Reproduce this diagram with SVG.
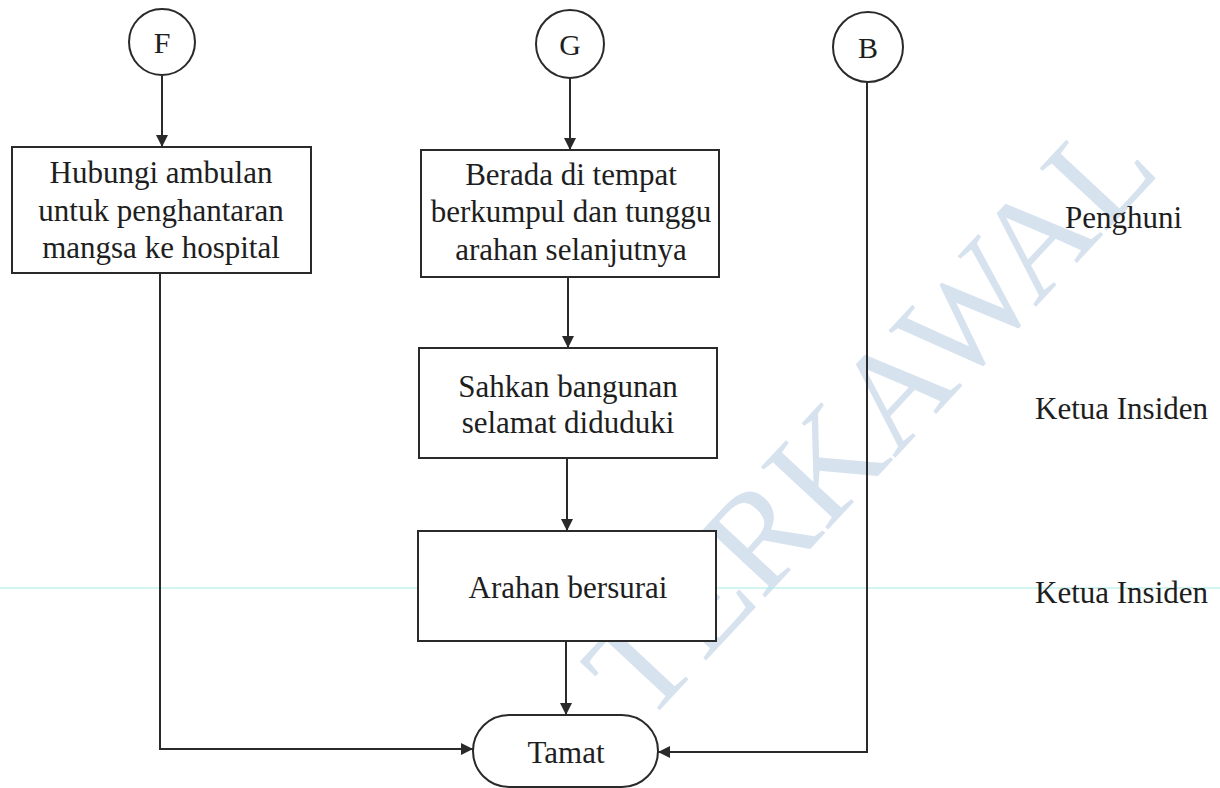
<svg xmlns="http://www.w3.org/2000/svg" width="1220" height="788" viewBox="0 0 1220 788">
  <style>
    .box { fill: #ffffff; stroke: #2a2a2a; stroke-width: 2; }
    .conn { fill: none; stroke: #2a2a2a; stroke-width: 2; }
    .t { font-family: "Liberation Serif", "Times New Roman", serif; font-size: 31px; fill: #1e1e1e; }
    .c { text-anchor: middle; }
    .lbl { font-family: "Liberation Serif", "Times New Roman", serif; font-size: 30px; fill: #1e1e1e; text-anchor: middle; }
    .wm { font-family: "Liberation Serif", "Times New Roman", serif; font-size: 140px; fill: #c3d3e8; opacity: 0.65; }
  </style>
  <defs>
    <marker id="arr" markerUnits="userSpaceOnUse" markerWidth="13" markerHeight="13" refX="12" refY="6" orient="auto">
      <path d="M0,0 L12,6 L0,12 z" fill="#2a2a2a"/>
    </marker>
  </defs>
  <rect width="1220" height="788" fill="#ffffff"/>

  <!-- watermark -->
  <g id="watermark">
    <text class="wm" transform="translate(645,726) rotate(-47)">TERKAWAL</text>
  </g>

  <!-- guide line -->
  <line x1="0" y1="588" x2="1220" y2="588" stroke="#a6ece4" stroke-width="1.2"/>

  <g id="connectors">
    <line class="conn" x1="162" y1="76" x2="162" y2="147" marker-end="url(#arr)"/>
    <line class="conn" x1="570" y1="78" x2="570" y2="150" marker-end="url(#arr)"/>
    <line class="conn" x1="568" y1="277" x2="568" y2="348" marker-end="url(#arr)"/>
    <line class="conn" x1="567" y1="458" x2="567" y2="531" marker-end="url(#arr)"/>
    <line class="conn" x1="566" y1="641" x2="566" y2="715" marker-end="url(#arr)"/>
    <polyline class="conn" points="160,273 160,749 473,749" marker-end="url(#arr)"/>
    <polyline class="conn" points="867,82 867,752 658,752" marker-end="url(#arr)"/>
  </g>

  <g id="node-F">
    <circle class="box" cx="162" cy="42" r="33"/>
    <text class="lbl" x="162" y="53">F</text>
  </g>
  <g id="node-G">
    <circle class="box" cx="570" cy="44" r="34"/>
    <text class="lbl" x="570" y="55">G</text>
  </g>
  <g id="node-B">
    <circle class="box" cx="868" cy="47" r="35"/>
    <text class="lbl" x="868" y="58">B</text>
  </g>

  <g id="node-ambulan">
    <rect class="box" x="12" y="147" width="299" height="126"/>
    <text class="t c" x="161" y="183">Hubungi ambulan</text>
    <text class="t c" x="161" y="221">untuk penghantaran</text>
    <text class="t c" x="161" y="258">mangsa ke hospital</text>
  </g>

  <g id="node-berkumpul">
    <rect class="box" x="421" y="150" width="298" height="127"/>
    <text class="t c" x="571" y="185">Berada di tempat</text>
    <text class="t c" x="571" y="222">berkumpul dan tunggu</text>
    <text class="t c" x="571" y="260">arahan selanjutnya</text>
  </g>

  <g id="node-sahkan">
    <rect class="box" x="419" y="348" width="298" height="110"/>
    <text class="t c" x="568" y="397">Sahkan bangunan</text>
    <text class="t c" x="568" y="433">selamat diduduki</text>
  </g>

  <g id="node-arahan">
    <rect class="box" x="418" y="531" width="298" height="110"/>
    <text class="t c" x="568" y="598">Arahan bersurai</text>
  </g>

  <g id="node-tamat">
    <rect class="box" x="473" y="715" width="185" height="72" rx="36" ry="36"/>
    <text class="t c" x="566" y="763">Tamat</text>
  </g>

  <g id="roles">
    <text class="t" x="1065" y="228">Penghuni</text>
    <text class="t" x="1035" y="419">Ketua Insiden</text>
    <text class="t" x="1035" y="603">Ketua Insiden</text>
  </g>
</svg>
